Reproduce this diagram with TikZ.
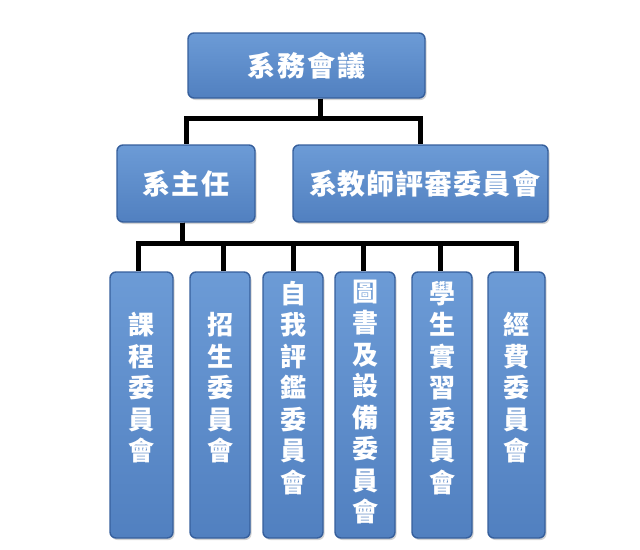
\documentclass[tikz,border=0pt]{standalone}
\usepackage{fontspec}
\newfontfamily\cjk{Noto Sans CJK TC}
\usetikzlibrary{shadows}
\definecolor{boxtop}{HTML}{6C9BD6}
\definecolor{boxbot}{HTML}{5180C0}
\definecolor{boxline}{HTML}{365F9C}
\tikzset{
  box/.style={draw=boxline, line width=1.4pt, rounded corners=6pt,
    top color=boxtop, bottom color=boxbot, text=white, inner sep=0pt,
    drop shadow={opacity=0.35, shadow xshift=1.5pt, shadow yshift=-2pt}},
  vlbl/.style={text=white, align=center, font=\cjk\bfseries\fontsize{26}{31.5}\selectfont},
  conn/.style={line width=5pt, black}
}
\newcommand\hfnt{\cjk\bfseries\fontsize{28}{30}\selectfont}
\begin{document}
\begin{tikzpicture}[x=1pt,y=-1pt]
\useasboundingbox (0,0) rectangle (640,549);
% top level
\node[box, minimum width=237pt, minimum height=65pt] (top) at (306.5,65.5)
  {\hfnt 系\hspace{2pt}務\hspace{2pt}會\hspace{2pt}議};
\node[box, minimum width=138pt, minimum height=77pt] (zr) at (186,183.5)
  {\hfnt 系\hspace{2pt}主\hspace{2pt}任};
\node[box, minimum width=255pt, minimum height=77pt,
  label={[text=white,xshift=4pt]center:\hfnt 系\hspace{1pt}教\hspace{1pt}師\hspace{1pt}評\hspace{1pt}審\hspace{1pt}委\hspace{1pt}員\hspace{1pt}會}] (ps) at (420.5,183.5) {};
% committees
\node[box, minimum width=63pt, minimum height=266pt,
  label={[vlbl,yshift=17pt]center:課\\程\\委\\員\\會}] (b1) at (141.5,405) {};
\node[box, minimum width=60pt, minimum height=266pt,
  label={[vlbl,yshift=17pt]center:招\\生\\委\\員\\會}] (b2) at (220,405) {};
\node[box, minimum width=60pt, minimum height=266pt,
  label={[vlbl,yshift=17pt]center:自\\我\\評\\鑑\\委\\員\\會}] (b3) at (293,405) {};
\node[box, minimum width=60pt, minimum height=266pt,
  label={[vlbl,yshift=3pt]center:圖\\書\\及\\設\\備\\委\\員\\會}] (b4) at (365,405) {};
\node[box, minimum width=60pt, minimum height=266pt,
  label={[vlbl,yshift=17pt]center:學\\生\\實\\習\\委\\員\\會}] (b5) at (442,405) {};
\node[box, minimum width=57pt, minimum height=266pt,
  label={[vlbl,yshift=17pt]center:經\\費\\委\\員\\會}] (b6) at (516.5,405) {};
% connectors
\coordinate (bar1) at ([xshift=13.5pt]top.south);
\draw[conn] (bar1) -- ++(0,20) -| (zr.north);
\draw[conn] (bar1) -- ++(0,20) -| (ps.north);
\coordinate (bar2) at ([xshift=-4pt]zr.south);
\draw[conn] (bar2) -- ++(0,21) -| ([xshift=-3.5pt]b1.north);
\draw[conn] (bar2) -- ++(0,21) -| ([xshift=3pt]b2.north);
\draw[conn] (bar2) -- ++(0,21) -| (b3.north);
\draw[conn] (bar2) -- ++(0,21) -| ([xshift=-2pt]b4.north);
\draw[conn] (bar2) -- ++(0,21) -| ([xshift=-2pt]b5.north);
\draw[conn] (bar2) -- ++(0,21) -| (b6.north);
\end{tikzpicture}
\end{document}
